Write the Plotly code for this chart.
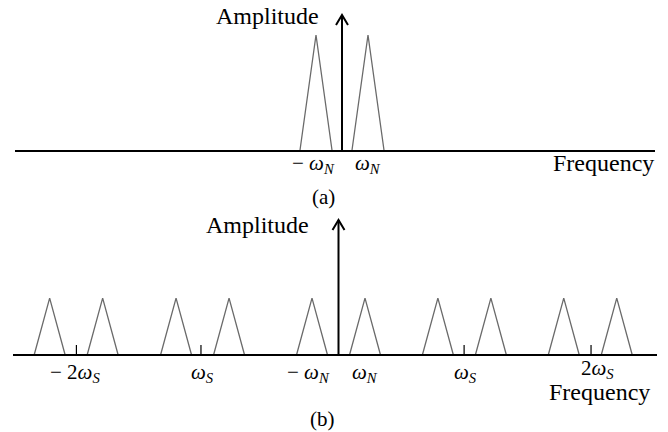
import plotly.graph_objects as go

# ---- data (units: omega_N = 1) ----
top_centers = [-1.0, 1.0]            # -wN, wN
top_amp = 1.0
top_half_width = 0.62
bottom_centers = [-10.9, -8.9, -6.13, -4.13, -1.0, 1.0, 3.75, 5.75, 8.5, 10.5]
bottom_amp = 0.49
bottom_half_width = 0.585
sample_ticks = [-9.89, -5.19, 4.74, 9.53]
sample_labels = ["− 2<i>ω</i><sub><i>S</i></sub>", "<i>ω</i><sub><i>S</i></sub>",
                 "<i>ω</i><sub><i>S</i></sub>", "2<i>ω</i><sub><i>S</i></sub>"]
top_tick_pos = [-1.1, 1.0]
top_tick_labels = ["− <i>ω</i><sub><i>N</i></sub>", "<i>ω</i><sub><i>N</i></sub>"]
bottom_n_pos = [-1.15, 1.0]
bottom_n_labels = ["− <i>ω</i><sub><i>N</i></sub>", "<i>ω</i><sub><i>N</i></sub>"]

FONT = "Liberation Serif"
TRI_COLOR = "#6a6a6a"

fig = go.Figure()

def tri_trace(centers, amp, hw, xa, ya):
    xs, ys = [], []
    for c in centers:
        xs += [c - hw, c, c + hw, None]
        ys += [0, amp, 0, None]
    return go.Scatter(x=xs, y=ys, mode="lines", line=dict(color=TRI_COLOR, width=1.3),
                      xaxis=xa, yaxis=ya, showlegend=False, hoverinfo="skip")

fig.add_trace(tri_trace(top_centers, top_amp, top_half_width, "x", "y"))
fig.add_trace(tri_trace(bottom_centers, bottom_amp, bottom_half_width, "x2", "y2"))

# axis ranges (chosen to place the drawing in the frame)
top_xr = [-342 / 26, 326 / 26]
bot_xr = [-338.5 / 26.5, 329.5 / 26.5]
top_yr = [-0.4224, 1.3017]
bot_yr = [-0.664, 1.25]

shapes = []
# horizontal axes
shapes.append(dict(type="line", xref="x", yref="y", x0=(15 - 342) / 26, x1=(655 - 342) / 26,
                   y0=0, y1=0, line=dict(color="black", width=2)))
shapes.append(dict(type="line", xref="x2", yref="y2", x0=(13 - 338.5) / 26.5, x1=(657 - 338.5) / 26.5,
                   y0=0, y1=0, line=dict(color="black", width=2)))

# vertical arrows
def arrow(xref, yref, top, pxu):
    dx = 6 / pxu
    dy = 10 / 116
    return [
        dict(type="line", xref=xref, yref=yref, x0=0, x1=0, y0=0, y1=top, line=dict(color="black", width=2)),
        dict(type="path", xref=xref, yref=yref,
             path=f"M {-dx},{top - dy} L 0,{top} L {dx},{top - dy}",
             line=dict(color="black", width=2)),
    ]

shapes += arrow("x", "y", 1.172, 26)
shapes += arrow("x2", "y2", 1.164, 26.5)

# small ticks at sampling frequency multiples
for t in sample_ticks:
    shapes.append(dict(type="line", xref="x2", yref="y2", x0=t, x1=t, y0=0, y1=10 / 116,
                       line=dict(color="black", width=1.2)))

fig.update_layout(shapes=shapes)

ann = []
def text(x, y, s, xref, yref, size=20, xanchor="center"):
    ann.append(dict(x=x, y=y, xref=xref, yref=yref, text=s, showarrow=False,
                    font=dict(family=FONT, size=size, color="black"), xanchor=xanchor, yanchor="middle"))

text(-2.88, 1.16, "Amplitude", "x", "y", 24)
text(10.05, -0.1, "Frequency", "x", "y", 24)
text(-0.73, -0.40, "(a)", "x", "y", 21)
for p, s in zip(top_tick_pos, top_tick_labels):
    text(p, -0.11, s, "x", "y", 21)

text(-3.04, 1.12, "Amplitude", "x2", "y2", 24)
text(9.85, -0.32, "Frequency", "x2", "y2", 24)
text(-0.62, -0.55, "(b)", "x2", "y2", 21)
for p, s in zip(bottom_n_pos, bottom_n_labels):
    text(p, -0.155, s, "x2", "y2", 21)
for p, s, off, yy in zip(sample_ticks, sample_labels, [-0.05, 0.05, 0.05, 0.25],
                         [-0.155, -0.155, -0.155, -0.125]):
    text(p + off, yy, s, "x2", "y2", 21)

fig.update_layout(
    annotations=ann,
    width=668, height=432,
    margin=dict(l=0, r=0, t=0, b=0),
    paper_bgcolor="white", plot_bgcolor="white",
    showlegend=False,
    xaxis=dict(domain=[0, 1], range=top_xr, visible=False, fixedrange=True),
    yaxis=dict(domain=[1 - 200 / 432, 1], range=top_yr, visible=False, fixedrange=True),
    xaxis2=dict(domain=[0, 1], range=bot_xr, visible=False, fixedrange=True, anchor="y2"),
    yaxis2=dict(domain=[0, 1 - 210 / 432], range=bot_yr, visible=False, fixedrange=True, anchor="x2"),
)

fig.write_html("out.html", config={"displayModeBar": False})
